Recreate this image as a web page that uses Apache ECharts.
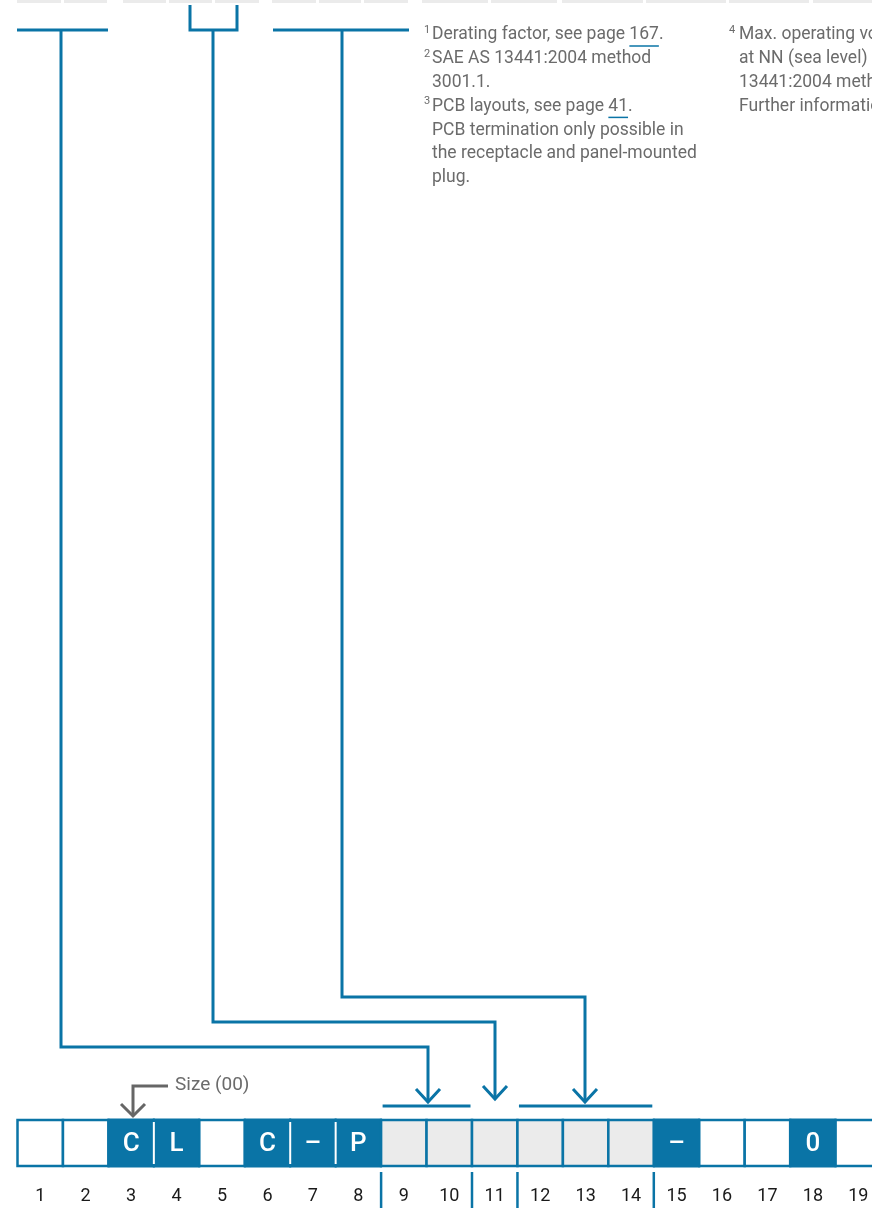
<!DOCTYPE html>
<html lang="en">
<head>
<meta charset="UTF-8">
<title>Part number key</title>
<script src="https://cdn.jsdelivr.net/npm/echarts@6/dist/echarts.min.js"></script>
<style>
  html, body { margin: 0; padding: 0; background: #fff; }
  #chart { width: 872px; height: 1208px; }
</style>
</head>
<body>
<div id="chart"></div>
<script>
// code positions of the part number
var positions = [1, 2, 3, 4, 5, 6, 7, 8, 9, 10, 11, 12, 13, 14, 15, 16, 17, 18, 19];
var cellChars = ['', '', 'C', 'L', '', 'C', '–', 'P', '', '', '', '', '', '', '–', '', '', '0', ''];
// w = open, b = fixed, g = selected by the connectors
var cellKind  = ['w', 'w', 'b', 'b', 'w', 'b', 'b', 'b', 'g', 'g', 'g', 'g', 'g', 'g', 'b', 'w', 'w', 'b', 'w'];
var groupBreaks = [8, 10, 11, 14];        // separator after these positions
var targetGroups = [[9, 10], [12, 14]];   // bars above grouped positions

// header columns of the table above (cropped at top edge), px
var headerCols = [[17, 61], [64, 107], [123, 166], [169, 212], [215, 259], [272, 316], [319, 361],
  [364, 408], [422, 488], [491, 557], [562, 643], [646, 726], [729, 809], [813, 880]];

// brackets under the header and the connectors down to the code row, px
var brackets = [
  [[17, 30], [108, 30]],
  [[190, 5], [190, 30], [237, 30], [237, 5]],
  [[273, 30], [409, 30]]
];
var connectors = [
  [[61, 30], [61, 1047], [428, 1047], [428, 1102]],
  [[213, 30], [213, 1022], [495, 1022], [495, 1099]],
  [[342, 30], [342, 997], [585, 997], [585, 1102]]
];
var sizePointer = [[168, 1086], [133, 1086], [133, 1116]];
var sizeLabel = 'Size (00)';

// footnotes: [superscript, text, underlined part]
var notesLeft = [
  ['1', 'Derating factor, see page 167.', '167'],
  ['2', 'SAE AS 13441:2004 method', ''],
  ['', '3001.1.', ''],
  ['3', 'PCB layouts, see page 41.', '41'],
  ['', 'PCB termination only possible in', ''],
  ['', 'the receptacle and panel-mounted', ''],
  ['', 'plug.', '']
];
var notesRight = [
  ['4', 'Max. operating voltage', ''],
  ['', 'at NN (sea level) according to SAE AS', ''],
  ['', '13441:2004 method 3001.1.', ''],
  ['', 'Further information see page 167.', '']
];

var BLUE = '#0a74a6';
var GREY_CELL = '#ebebeb';
var TEXT_GREY = '#6b6b6b';
var FONT = 'Roboto, "Noto Sans", sans-serif';
var CELL_X0 = 17.5, CELL_W = 45.45, ROW_TOP = 1120, ROW_H = 46, LABEL_Y = 1196;
var NOTE_FONT = '17.5px ' + FONT, SUP_FONT = '11px ' + FONT;

var chart = echarts.init(document.getElementById('chart'));

function cellLeft(p) { return CELL_X0 + (p - 1) * CELL_W; }

function chevron(api, x, y, dx, dy, color) {
  var a = api.coord([x - dx, y - dy]), b = api.coord([x, y]), c = api.coord([x + dx, y - dy]);
  return { type: 'polyline', shape: { points: [a, b, c] },
    style: { stroke: color, lineWidth: 3, fill: null, lineJoin: 'miter' } };
}

// measure text for underlines
var measureCtx = document.createElement('canvas').getContext('2d');
function textWidth(str, font) { measureCtx.font = font; return measureCtx.measureText(str).width; }

var lineSeries = brackets.concat(connectors).map(function (path) {
  return {
    type: 'line', data: path, symbol: 'none', silent: true, clip: false,
    lineStyle: { color: BLUE, width: 3, cap: 'butt', join: 'miter' }
  };
});
lineSeries.push({
  type: 'line', data: sizePointer, symbol: 'none', silent: true, clip: false,
  lineStyle: { color: '#666', width: 3, cap: 'butt', join: 'miter' }
});

var option = {
  animation: false,
  grid: { left: 0, right: 0, top: 0, bottom: 0 },
  xAxis: { type: 'value', min: 0, max: 872, show: false },
  yAxis: { type: 'value', min: 0, max: 1208, inverse: true, show: false },
  series: lineSeries.concat([
    {
      // header columns
      type: 'custom', silent: true, clip: false,
      data: headerCols,
      renderItem: function (params, api) {
        var a = api.coord([api.value(0), 0]), b = api.coord([api.value(1), 3]);
        return { type: 'rect', shape: { x: a[0], y: a[1], width: b[0] - a[0], height: b[1] - a[1] },
          style: { fill: GREY_CELL } };
      }
    },
    {
      // code cells and position numbers
      type: 'custom', silent: true, clip: false,
      data: positions.map(function (p) { return [p]; }),
      renderItem: function (params, api) {
        var p = api.value(0), i = p - 1;
        var x0 = cellLeft(p);
        var a = api.coord([x0, ROW_TOP]), b = api.coord([x0 + CELL_W, ROW_TOP + ROW_H]);
        var w = b[0] - a[0], h = b[1] - a[1];
        var kids = [];
        if (cellKind[i] === 'b') {
          kids.push({ type: 'rect', shape: { x: a[0] - 1, y: a[1] - 1.5, width: w + 2, height: h + 3 },
            style: { fill: BLUE } });
          if (i > 0 && cellKind[i - 1] === 'b') {
            kids.push({ type: 'line', shape: { x1: a[0], y1: a[1] + 2, x2: a[0], y2: b[1] - 2 },
              style: { stroke: '#fff', lineWidth: 2 } });
          }
        } else {
          kids.push({ type: 'rect', shape: { x: a[0], y: a[1], width: w, height: h },
            style: { fill: cellKind[i] === 'g' ? GREY_CELL : '#fff', stroke: BLUE, lineWidth: 2.5 } });
        }
        if (cellChars[i]) {
          kids.push({ type: 'text', style: { x: a[0] + w / 2, y: a[1] + h / 2 + 1, text: cellChars[i],
            fill: '#fff', font: '500 26px ' + FONT, textAlign: 'center', textVerticalAlign: 'middle' } });
        }
        var l = api.coord([x0 + CELL_W / 2, LABEL_Y]);
        kids.push({ type: 'text', style: { x: l[0], y: l[1], text: String(p), fill: '#1a1a1a',
          font: '18px ' + FONT, textAlign: 'center', textVerticalAlign: 'middle' } });
        return { type: 'group', children: kids };
      }
    },
    {
      // group separators under the row
      type: 'custom', silent: true, clip: false,
      data: groupBreaks.map(function (p) { return [p]; }),
      renderItem: function (params, api) {
        var x = cellLeft(api.value(0) + 1);
        var a = api.coord([x, 1172]), b = api.coord([x, 1210]);
        return { type: 'line', shape: { x1: a[0], y1: a[1], x2: b[0], y2: b[1] },
          style: { stroke: BLUE, lineWidth: 2.5 } };
      }
    },
    {
      // bars over grouped positions
      type: 'custom', silent: true, clip: false,
      data: targetGroups,
      renderItem: function (params, api) {
        var a = api.coord([cellLeft(api.value(0)) + 1.5, 1106]);
        var b = api.coord([cellLeft(api.value(1) + 1) - 1.5, 1106]);
        return { type: 'line', shape: { x1: a[0], y1: a[1], x2: b[0], y2: b[1] },
          style: { stroke: BLUE, lineWidth: 3 } };
      }
    },
    {
      // arrow heads at connector ends
      type: 'custom', silent: true, clip: false,
      data: connectors.map(function (c) { return c[c.length - 1]; }),
      renderItem: function (params, api) {
        return chevron(api, api.value(0), api.value(1), 12, 13, BLUE);
      }
    },
    {
      // size pointer head and label
      type: 'custom', silent: true, clip: false,
      data: [sizePointer[sizePointer.length - 1]],
      renderItem: function (params, api) {
        var t = api.coord([sizePointer[0][0] + 7, sizePointer[0][1] - 1]);
        return { type: 'group', children: [
          chevron(api, api.value(0), api.value(1), 12, 12, '#666'),
          { type: 'text', style: { x: t[0], y: t[1], text: sizeLabel, fill: TEXT_GREY,
            font: '19px ' + FONT, textVerticalAlign: 'middle' } }
        ] };
      }
    }
  ])
};

// footnote texts
function noteElements(notes, supX, textX, y0) {
  var els = [];
  notes.forEach(function (n, k) {
    var y = y0 + k * 23.8;
    if (n[0]) {
      els.push({ type: 'text', silent: true, style: { x: supX, y: y - 5, text: n[0], fill: TEXT_GREY,
        font: SUP_FONT, textVerticalAlign: 'middle' } });
    }
    els.push({ type: 'text', silent: true, style: { x: textX, y: y, text: n[1], fill: TEXT_GREY,
      font: NOTE_FONT, textVerticalAlign: 'middle' } });
    if (n[2]) {
      var pre = n[1].slice(0, n[1].indexOf(n[2]));
      var ux = textX + textWidth(pre, NOTE_FONT), uw = textWidth(n[2], NOTE_FONT);
      els.push({ type: 'line', silent: true, shape: { x1: ux, y1: y + 11, x2: ux + uw, y2: y + 11 },
        style: { stroke: BLUE, lineWidth: 1.5 } });
    }
  });
  return els;
}
option.graphic = { elements: noteElements(notesLeft, 424, 432, 35).concat(noteElements(notesRight, 729, 739, 35)) };

chart.setOption(option);
</script>
</body>
</html>
